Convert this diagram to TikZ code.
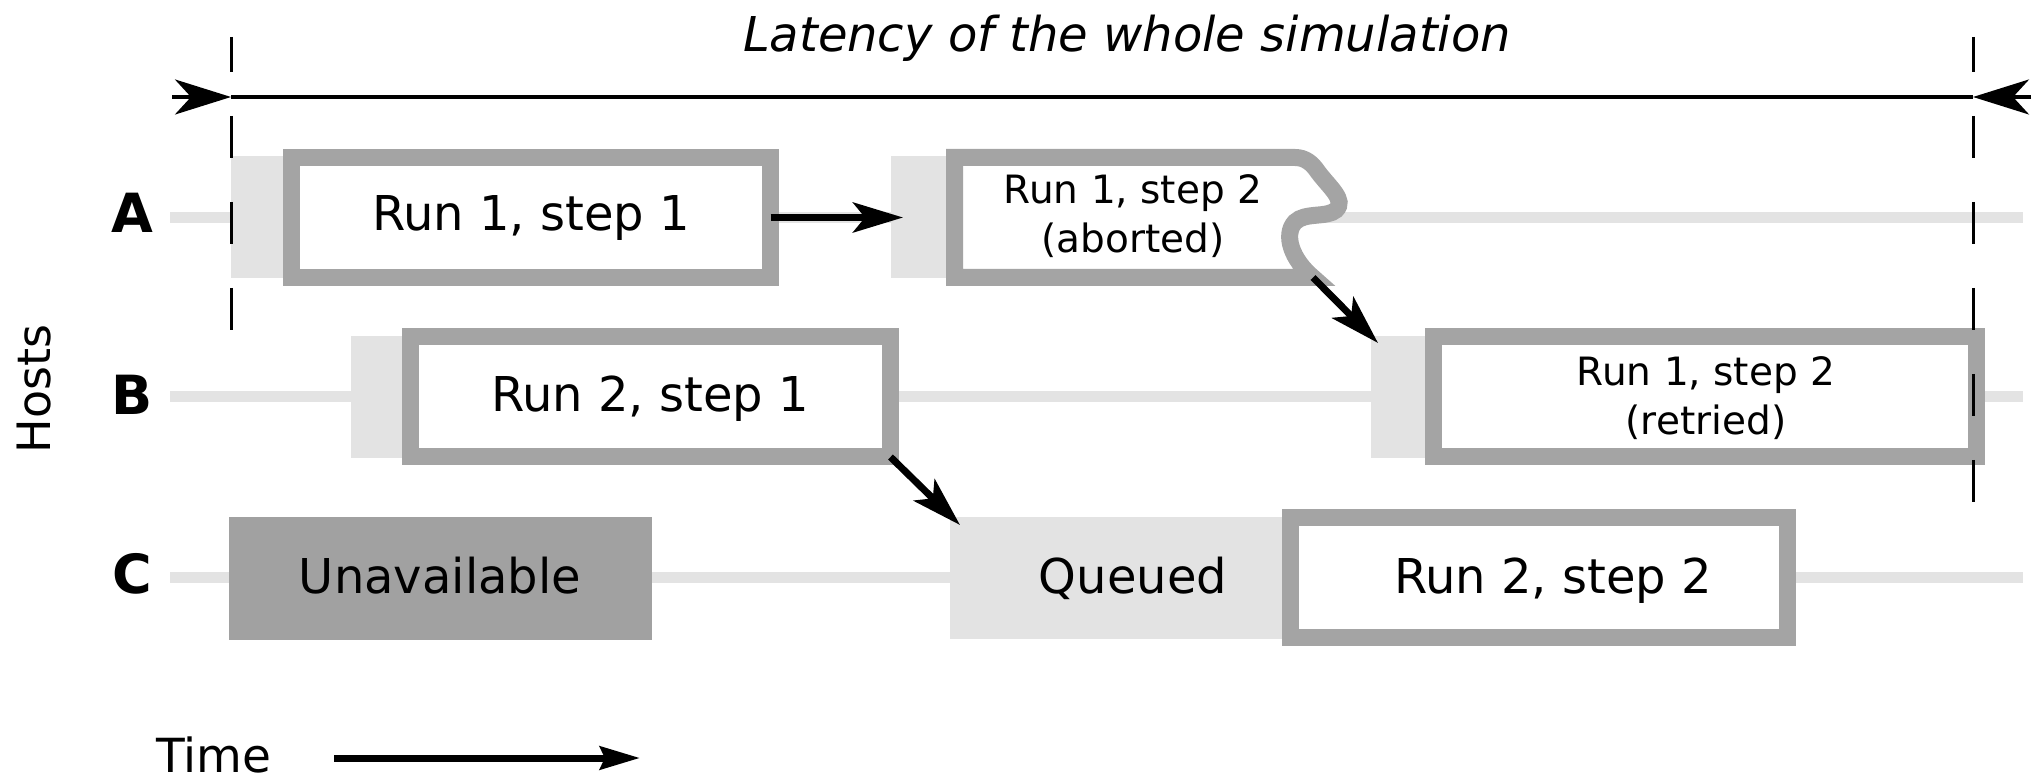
\documentclass[tikz,border=0pt]{standalone}
\usepackage{fontspec}
\setmainfont{DejaVu Sans}[ItalicFont={DejaVu Sans Oblique},BoldFont={DejaVu Sans Bold}]
\usetikzlibrary{arrows.meta}
\definecolor{lanegray}{HTML}{E3E3E3}
\definecolor{framegray}{HTML}{A4A4A4}
\definecolor{downgray}{HTML}{A1A1A1}

\begin{document}
\begin{tikzpicture}[x=0.5pt,y=-0.5pt,
  lane/.style={draw=lanegray, line width=5.5pt},
  prep/.style={fill=lanegray, draw=none, inner sep=0pt, outer sep=0pt, minimum height=61pt},
  job/.style={draw=framegray, fill=white, line width=8.5pt, inner sep=0pt, outer sep=0pt, minimum height=60pt},
  joblabel/.style={font=\fontsize{24}{29}\selectfont, anchor=base, inner sep=0pt},
  smalllabel/.style={font=\fontsize{19.5}{24.5}\selectfont, anchor=base, align=center, inner sep=0pt},
  hostlabel/.style={font=\bfseries\fontsize{27}{32}\selectfont, inner sep=0pt},
  flow/.style={line width=3.5pt, -{Stealth[length=25pt, width=15pt, inset=6pt]}},
  bound/.style={line width=1.5pt, dash pattern=on 21pt off 22pt, dash phase=3.5pt},
  span/.style={line width=1.75pt},
  spantip/.style={line width=1.75pt, -{Stealth[length=28pt, width=17.5pt, inset=8pt]}},
  timearrow/.style={line width=3.5pt, -{Stealth[length=20pt, width=11.5pt, inset=2.5pt]}}
]
\useasboundingbox (0,0) rectangle (2033,779);

% host time lines
\draw[lane] (170,217.5) -- (2023,217.5);
\draw[lane] (170,397) -- (2023,397);
\draw[lane] (170,578) -- (2023,578);

% set-up / waiting periods
\node[prep, minimum width=30.25pt] (A1pre) at (261.25,217.5) {};
\node[prep, minimum width=31.75pt] (A2pre) at (922.75,217.5) {};
\node[prep, minimum width=29.75pt] (B1pre) at (380.75,397) {};
\node[prep, minimum width=31.25pt] (B3pre) at (1402.25,397) {};
\node[prep, minimum width=170.25pt] (Qpre) at (1120.25,578) {};
\node[fill=downgray, inner sep=0pt, outer sep=0pt, minimum width=211.5pt, minimum height=61.5pt] (Unav) at (440.5,578.5) {};

% job boxes
\node[job, minimum width=239.5pt] (A1) at (531,217.5) {};
\node[job, minimum width=240pt] (B1) at (650.5,397) {};
\node[job, minimum width=271.5pt] (B3) at (1705,397) {};
\node[job, minimum width=248.5pt] (C2) at (1539,578) {};

% aborted job with a torn right edge
\draw[draw=framegray, fill=white, line width=8.5pt]
  (1313,277.5) -- (954.5,277.5) -- (954.5,157.5) -- (1295,157.5)
  .. controls (1305,157.5) and (1312,163) .. (1318,172)
  .. controls (1330,188) and (1346,200) .. (1336,210)
  .. controls (1327,218) and (1305,212) .. (1295,222)
  .. controls (1283,235) and (1292,260) .. (1313,277.5) -- cycle;
\coordinate (A2corner) at (1313,277.5);

% labels
\node[joblabel] (A1txt) at (531,231) {Run 1, step 1};
\node[joblabel] (B1txt) at (650,412) {Run 2, step 1};
\node[joblabel] (Unavtxt) at (440,594) {Unavailable};
\node[joblabel] (Qtxt) at (1133,594) {Queued};
\node[joblabel] (C2txt) at (1553,594) {Run 2, step 2};
\node[smalllabel] (A2txt) at (1133,253) {Run 1, step 2\\(aborted)};
\node[smalllabel] (B3txt) at (1706,434.5) {Run 1, step 2\\(retried)};

% hand-overs
\draw[flow] (A1.east) -- ([xshift=6pt]A2pre.west);
\draw[flow] (A2corner) -- ([xshift=3.5pt,yshift=-3.5pt]B3pre.north west);
\draw[flow] (B1.south east) -- ([xshift=5pt,yshift=-4pt]Qpre.north west);

% overall latency
\coordinate (boundLtop) at (231,37);
\coordinate (boundLbot) at (231,331);
\coordinate (boundRtop) at (1973,37);
\coordinate (boundRbot) at (1973,506);
\draw[bound] (boundLtop) -- (boundLbot);
\draw[bound] (boundRtop) -- (boundRbot);
\coordinate (spanL) at (231,97);
\coordinate (spanR) at (1973,97);
\coordinate (spanLout) at (172,97);
\coordinate (spanRout) at (2031,97);
\draw[span] (spanL) -- (spanR);
\draw[spantip] (spanLout) -- (spanL);
\draw[spantip] (spanRout) -- (spanR);
\node[anchor=base, inner sep=0pt, font=\itshape\fontsize{24}{29}\selectfont] (title) at (1127,52) {Latency of the whole simulation};

% axes
\node[rotate=90, inner sep=0pt, font=\fontsize{23}{28}\selectfont] (hosts) at (34.5,389) {Hosts};
\node[hostlabel] (hA) at (132,213) {A};
\node[hostlabel] (hB) at (132,395) {B};
\node[hostlabel] (hC) at (132,574) {C};
\node[anchor=base, inner sep=0pt, font=\fontsize{23.5}{28}\selectfont] (timelbl) at (214,772) {Time};
\coordinate (timestart) at (334,758);
\coordinate (timeend) at (640,758);
\draw[timearrow] (timestart) -- (timeend);
\end{tikzpicture}
\end{document}
